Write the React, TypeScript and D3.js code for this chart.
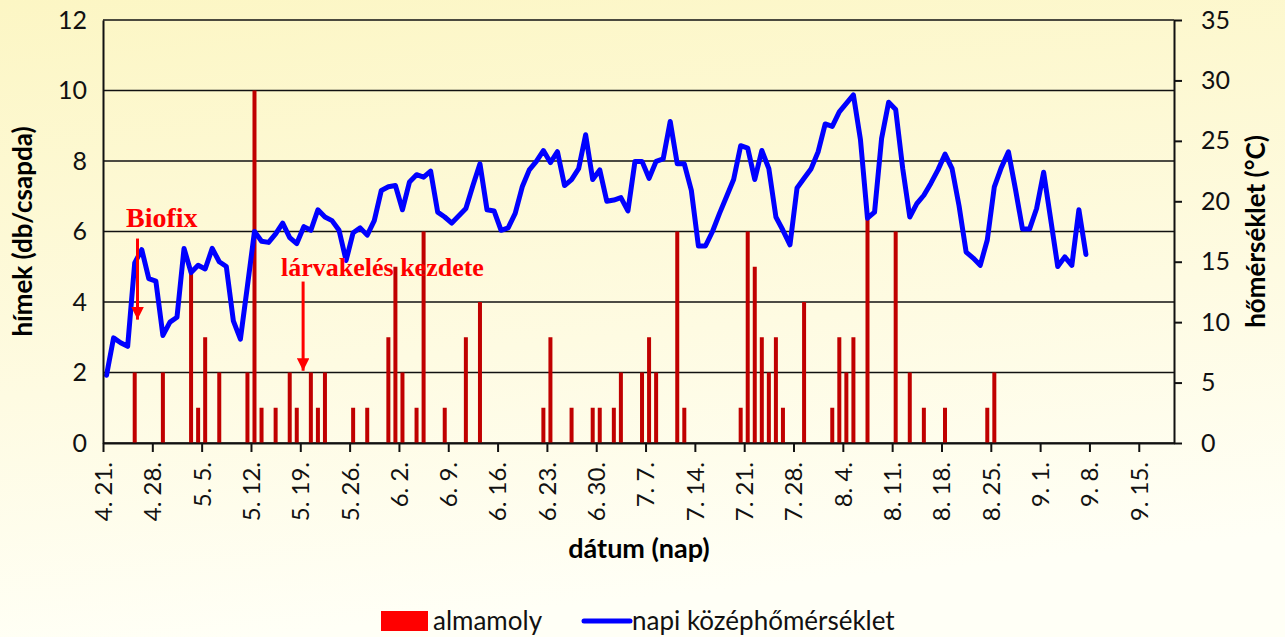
import React, { useEffect, useRef } from 'react';
import * as d3 from 'd3';

// days counted from 4.21. (day 0)
const tickDays = [0, 7, 14, 21, 28, 35, 42, 49, 56, 63, 70, 77, 84, 91, 98, 105, 112, 119, 126, 133, 140, 147];
const tickLabels = ['4. 21.', '4. 28.', '5. 5.', '5. 12.', '5. 19.', '5. 26.', '6. 2.', '6. 9.', '6. 16.', '6. 23.', '6. 30.',
    '7. 7.', '7. 14.', '7. 21.', '7. 28.', '8. 4.', '8. 11.', '8. 18.', '8. 25.', '9. 1.', '9. 8.', '9. 15.'];

// napi középhőmérséklet (°C), one value per day from 4.21.
const temperature = [
    5.6, 8.7, 8.3, 8.0, 14.9, 16.0, 13.6, 13.4, 8.9, 10.0,
    10.4, 16.1, 14.1, 14.7, 14.4, 16.1, 15.0, 14.6, 10.1, 8.6,
    13.0, 17.5, 16.7, 16.6, 17.3, 18.2, 17.0, 16.5, 17.9, 17.6,
    19.3, 18.7, 18.4, 17.6, 15.1, 17.4, 17.8, 17.2, 18.4, 20.9,
    21.2, 21.3, 19.3, 21.6, 22.2, 22.0, 22.5, 19.1, 18.7, 18.2,
    18.8, 19.4, 21.3, 23.1, 19.3, 19.2, 17.6, 17.8, 19.0, 21.2,
    22.6, 23.3, 24.2, 23.2, 24.1, 21.3, 21.8, 22.7, 25.5, 21.8,
    22.6, 20.0, 20.1, 20.3, 19.2, 23.3, 23.3, 21.9, 23.3, 23.5,
    26.6, 23.1, 23.1, 20.9, 16.3, 16.3, 17.5, 19.0, 20.4, 21.8,
    24.6, 24.4, 21.8, 24.2, 22.7, 18.7, 17.6, 16.4, 21.1, 21.9,
    22.7, 24.1, 26.4, 26.2, 27.4, 28.1, 28.8, 25.1, 18.6, 19.1,
    25.2, 28.2, 27.6, 22.7, 18.7, 19.8, 20.5, 21.5, 22.6, 23.9,
    22.7, 19.6, 15.8, 15.3, 14.7, 16.8, 21.2, 22.8, 24.1, 21.0,
    17.7, 17.7, 19.4, 22.4, 18.5, 14.6, 15.4, 14.7, 19.3, 15.6
];

// almamoly fogás (hímek db/csapda)
const catchDays = [4, 8, 12, 13, 14, 16, 20, 21, 22, 24, 26, 27, 29, 30, 31, 35, 37, 40, 41, 42, 44, 45, 48, 51, 53,
    62, 63, 66, 69, 70, 72, 73, 76, 77, 78, 81, 82, 90, 91, 92, 93, 94, 95, 96, 99,
    103, 104, 105, 106, 108, 112, 114, 116, 119, 125, 126];
const catchCounts = [2, 2, 4.8, 1, 3, 2, 2, 10, 1, 1, 2, 1, 2, 1, 2, 1, 1, 3, 5, 2, 1, 6, 1, 3, 4,
    1, 3, 1, 1, 1, 1, 2, 2, 3, 2, 6, 1, 1, 6, 5, 3, 2, 3, 1, 4,
    1, 3, 2, 3, 6.4, 6, 2, 1, 1, 1, 2];

const font = 'Lato, "Open Sans", sans-serif';

export default function App() {
    const ref = useRef<SVGSVGElement>(null);

    useEffect(() => {
        document.body.style.margin = '0';
        const width = 1285;
        const height = 637;
        const left = 103, right = 1174, top = 20, bottom = 443;

        const svg = d3.select(ref.current);
        svg.selectAll('*').remove();

        // background
        const defs = svg.append('defs');
        const grad = defs.append('linearGradient')
            .attr('id', 'bg')
            .attr('x1', 0).attr('y1', 0).attr('x2', 0.2).attr('y2', 1);
        grad.append('stop').attr('offset', '0%').attr('stop-color', '#fcf6c4');
        grad.append('stop').attr('offset', '60%').attr('stop-color', '#fefbe2');
        grad.append('stop').attr('offset', '100%').attr('stop-color', '#fffff6');
        svg.append('rect').attr('width', width).attr('height', height).attr('fill', 'url(#bg)');

        const arrowDef = defs.append('marker')
            .attr('id', 'arrow')
            .attr('viewBox', '0 0 10 10')
            .attr('refX', 10).attr('refY', 5)
            .attr('markerWidth', 4.2).attr('markerHeight', 4.2)
            .attr('markerUnits', 'strokeWidth')
            .attr('orient', 'auto');
        arrowDef.append('path').attr('d', 'M0,0L10,5L0,10Z').attr('fill', '#ff0000');

        // scales
        const x = d3.scaleLinear().domain([0, 152]).range([left, right]);
        const yL = d3.scaleLinear().domain([0, 12]).range([bottom, top]);
        const yR = d3.scaleLinear().domain([0, 35]).range([bottom, top]);

        // gridlines
        svg.append('g')
            .selectAll('line')
            .data(yL.ticks(6))
            .enter().append('line')
            .attr('x1', left).attr('x2', right)
            .attr('y1', d => yL(d)).attr('y2', d => yL(d))
            .attr('stroke', '#111').attr('stroke-width', 1.6);

        // bars
        svg.append('g')
            .selectAll('rect')
            .data(catchDays.map((d, i) => ({ day: d, value: catchCounts[i] })))
            .enter().append('rect')
            .attr('x', d => x(d.day + 0.5) - 2)
            .attr('width', 4)
            .attr('y', d => yL(d.value))
            .attr('height', d => yL(0) - yL(d.value))
            .attr('fill', '#c00000');

        // temperature line
        const line = d3.line<number>()
            .x((_, i) => x(i + 0.5))
            .y(d => yR(d));
        svg.append('path')
            .datum(temperature)
            .attr('d', line)
            .attr('fill', 'none')
            .attr('stroke', '#0000ff')
            .attr('stroke-width', 5)
            .attr('stroke-linejoin', 'round')
            .attr('stroke-linecap', 'round');

        // left axis
        const gL = svg.append('g')
            .attr('transform', `translate(${left},0)`)
            .call(d3.axisLeft(yL).ticks(6).tickSize(0).tickPadding(16));
        gL.select('.domain').attr('stroke', '#111').attr('stroke-width', 2);
        gL.selectAll('text').style('font-family', font).style('font-size', '25px').attr('fill', '#111');

        // right axis
        const gR = svg.append('g')
            .attr('transform', `translate(${right},0)`)
            .call(d3.axisRight(yR).ticks(7).tickSize(8).tickSizeOuter(0).tickPadding(19));
        gR.select('.domain').attr('stroke', '#111').attr('stroke-width', 2);
        gR.selectAll('line').attr('stroke', '#111').attr('stroke-width', 2);
        gR.selectAll('text').style('font-family', font).style('font-size', '25px').attr('fill', '#111');

        // bottom axis
        const gB = svg.append('g')
            .attr('transform', `translate(0,${bottom})`)
            .call(d3.axisBottom(x).tickValues(tickDays)
                .tickFormat((_, i) => tickLabels[i])
                .tickSize(9).tickSizeOuter(0));
        gB.select('.domain').attr('stroke', '#111').attr('stroke-width', 2);
        gB.selectAll('line').attr('stroke', '#111').attr('stroke-width', 2);
        gB.selectAll('text')
            .attr('transform', 'rotate(-90)')
            .attr('x', -19).attr('y', 0).attr('dy', '0.35em')
            .attr('text-anchor', 'end')
            .style('font-family', font).style('font-size', '24px').attr('fill', '#111');

        // axis titles
        svg.append('text')
            .attr('transform', `translate(32,${(top + bottom) / 2}) rotate(-90)`)
            .attr('text-anchor', 'middle')
            .style('font-family', font).style('font-size', '26px').style('font-weight', 'bold')
            .text('hímek (db/csapda)');
        svg.append('text')
            .attr('transform', `translate(1265,${(top + bottom) / 2}) rotate(-90)`)
            .attr('text-anchor', 'middle')
            .style('font-family', font).style('font-size', '26px').style('font-weight', 'bold')
            .text('hőmérséklet (°C)');
        svg.append('text')
            .attr('x', 639).attr('y', 558)
            .attr('text-anchor', 'middle')
            .style('font-family', font).style('font-size', '27px').style('font-weight', 'bold')
            .text('dátum (nap)');

        // annotations
        const serif = '"Liberation Serif", "Times New Roman", serif';
        svg.append('text')
            .attr('x', 126).attr('y', 227)
            .attr('fill', '#ff0000')
            .style('font-family', serif).style('font-size', '28px').style('font-weight', 'bold')
            .text('Biofix');
        svg.append('line')
            .attr('x1', x(4.9)).attr('x2', x(4.9))
            .attr('y1', yL(5.8)).attr('y2', yL(3.5))
            .attr('stroke', '#ff0000').attr('stroke-width', 3)
            .attr('marker-end', 'url(#arrow)');
        svg.append('text')
            .attr('x', 281).attr('y', 276)
            .attr('fill', '#ff0000')
            .style('font-family', serif).style('font-size', '26px').style('font-weight', 'bold')
            .text('lárvakelés kezdete');
        svg.append('line')
            .attr('x1', x(28.4)).attr('x2', x(28.4))
            .attr('y1', yL(4.58)).attr('y2', yL(2.05))
            .attr('stroke', '#ff0000').attr('stroke-width', 3)
            .attr('marker-end', 'url(#arrow)');

        // legend
        const lg = svg.append('g').attr('transform', 'translate(381,621)');
        lg.append('rect').attr('x', 0).attr('y', -10).attr('width', 47).attr('height', 20).attr('fill', '#ff0000');
        lg.append('text').attr('x', 52).attr('y', 0).attr('dy', '0.35em')
            .style('font-family', font).style('font-size', '26px').attr('fill', '#111')
            .text('almamoly');
        lg.append('line').attr('x1', 203).attr('x2', 249).attr('y1', 0).attr('y2', 0)
            .attr('stroke', '#0000ff').attr('stroke-width', 5).attr('stroke-linecap', 'round');
        lg.append('text').attr('x', 251).attr('y', 0).attr('dy', '0.35em')
            .style('font-family', font).style('font-size', '26px').attr('fill', '#111')
            .text('napi középhőmérséklet');
    }, []);

    return (
        <div id='chart-container'>
            <svg ref={ref} width={1285} height={637} style={{ display: 'block' }}></svg>
        </div>
    );
}
